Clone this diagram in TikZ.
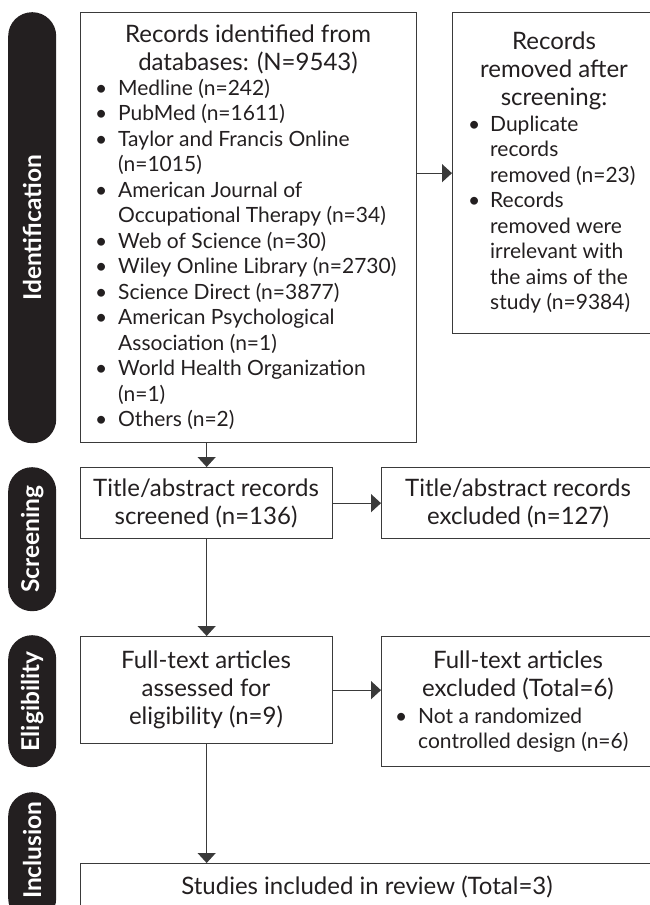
\documentclass[tikz,border=0pt]{standalone}
\usepackage{fontspec}
\setmainfont{Lato}
\usetikzlibrary{arrows.meta}
\definecolor{ink}{HTML}{231F20}
\definecolor{edge}{HTML}{3A3A3A}
\newcommand\bu[1]{\makebox[#1][l]{\textbullet}}
\newcommand\ind[1]{\hspace*{#1}}
\begin{document}
\begin{tikzpicture}[x=1pt,y=-1pt,
 box/.style={draw=edge,line width=1.3pt,anchor=north west,inner sep=0pt},
 bar/.style={fill=ink,rounded corners=23.9pt,anchor=north west,inner sep=0pt,minimum width=48pt},
 lab/.style={text=white,font=\bfseries\fontsize{24.5}{28}\selectfont,rotate=90,inner sep=0pt},
 ttl/.style={text=ink,font=\fontsize{24}{28}\selectfont,align=center,anchor=north,inner sep=0pt},
 lst/.style={text=ink,font=\fontsize{21}{25.5}\selectfont,anchor=north west,inner sep=0pt,align=left},
 arr/.style={draw=edge,line width=1.3pt,-{Triangle[length=10pt,width=18pt]}},
]
\useasboundingbox (0,0) rectangle (649,905);
% phase bars
\node[bar,minimum height=431pt] (idbar) at (8,12) {};
\node[bar,minimum height=144pt] (scbar) at (8,467) {};
\node[bar,minimum height=132pt] (elbar) at (8,635) {};
\node[bar,minimum height=130pt] (inbar) at (8,792) {};
\node[lab] (idlab) at (idbar.center) {Identification};
\node[lab] (sclab) at (scbar.center) {Screening};
\node[lab] (ellab) at (elbar.center) {Eligibility};
\node[lab] (inlab) at ([yshift=7pt]inbar.center) {Inclusion};
% boxes
\node[box,minimum width=336pt,minimum height=430pt] (id) at (80,12) {};
\node[box,minimum width=203pt,minimum height=321pt] (rm) at (452,12) {};
\node[box,minimum width=252pt,minimum height=71pt] (sc) at (80,467) {};
\node[box,minimum width=274pt,minimum height=71pt] (scx) at (381,467) {};
\node[box,minimum width=252pt,minimum height=107pt] (el) at (80,636) {};
\node[box,minimum width=274pt,minimum height=130pt] (elx) at (381,636) {};
\node[box,minimum width=575pt,minimum height=60pt] (st) at (80,863) {};
% texts
\node[ttl] (idt) at (248,18) {\rule{0pt}{24pt}Records identified from\\databases: (N=9543)};
\node[lst] (idl) at (95,73) {\rule{0pt}{22pt}\bu{23pt}Medline (n=242)\\
\bu{23pt}PubMed (n=1611)\\
\bu{23pt}Taylor and Francis Online\\
\ind{23pt}(n=1015)\\
\bu{23pt}American Journal of\\
\ind{23pt}Occupational Therapy (n=34)\\
\bu{23pt}Web of Science (n=30)\\
\bu{23pt}Wiley Online Library (n=2730)\\
\bu{23pt}Science Direct (n=3877)\\
\bu{23pt}American Psychological\\
\ind{23pt}Association (n=1)\\
\bu{23pt}World Health Organization\\
\ind{23pt}(n=1)\\
\bu{23pt}Others (n=2)};
\node[ttl] (rmt) at (554,25) {\rule{0pt}{24pt}Records\\removed after\\screening:};
\node[lst] (rml) at (468,109) {\rule{0pt}{22pt}\bu{22pt}Duplicate\\
\ind{22pt}records\\
\ind{22pt}removed (n=23)\\
\bu{22pt}Records\\
\ind{22pt}removed were\\
\ind{22pt}irrelevant with\\
\ind{22pt}the aims of the\\
\ind{22pt}study (n=9384)};
\node[ttl] (sct) at (206,472) {\rule{0pt}{24pt}Title/abstract records\\screened (n=136)};
\node[ttl] (scxt) at (518,472) {\rule{0pt}{24pt}Title/abstract records\\excluded (n=127)};
\node[ttl] (elt) at (206,644) {\rule{0pt}{24pt}Full-text articles\\assessed for\\eligibility (n=9)};
\node[ttl] (elxt) at (518,644) {\rule{0pt}{24pt}Full-text articles\\excluded (Total=6)};
\node[lst] (elxl) at (395,701) {\rule{0pt}{22pt}\bu{23pt}Not a randomized\\
\ind{23pt}controlled design (n=6)};
\node[ttl] (stt) at (367,870) {\rule{0pt}{24pt}Studies included in review (Total=3)};
% connectors
\draw[arr] (id.east |- rm.west) -- (rm.west);
\draw[arr] (sc.north |- id.south) -- (sc.north);
\draw[arr] (sc.east) -- (scx.west);
\draw[arr] (sc.south) -- (el.north);
\draw[arr] (el.east) -- (el.east -| elx.west);
\draw[arr] (el.south) -- (el.south |- st.north);
\end{tikzpicture}
\end{document}
